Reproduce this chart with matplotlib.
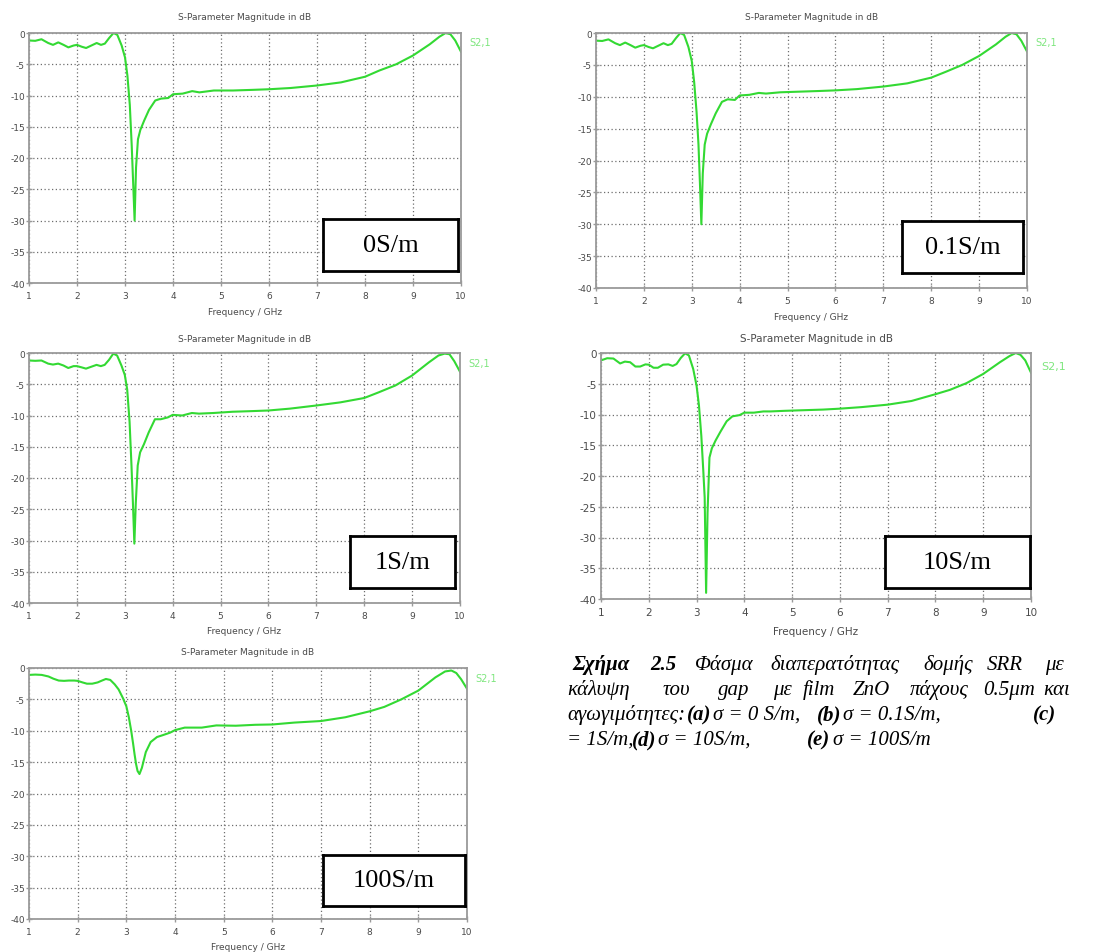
import matplotlib.pyplot as plt

plt.rcParams['axes.unicode_minus'] = False

# frequency grid (GHz) and S2,1 magnitude (dB)
freq_ghz = [1.0, 1.13, 1.26, 1.4, 1.5, 1.61, 1.72, 1.82, 1.93, 2.0,
            2.1, 2.19, 2.3, 2.41, 2.5, 2.58, 2.67, 2.76, 2.84, 2.93,
            3.0, 3.05, 3.1, 3.14, 3.17, 3.2, 3.23, 3.27, 3.32, 3.4,
            3.5, 3.63, 3.75, 3.9, 4.0, 4.2, 4.4, 4.55, 4.85, 5.25,
            5.65, 6.0, 6.45, 7.0, 7.5, 8.0, 8.3, 8.65, 9.0, 9.35,
            9.55, 9.68, 9.78, 9.88, 10.0]

s21_0 = [-1.2, -1.25, -1.0, -1.6, -1.9, -1.5, -1.9, -2.3, -2.0, -1.9,
         -2.2, -2.4, -2.0, -1.6, -1.9, -1.7, -0.8, 0.0, -0.3, -2.0,
         -3.9, -6.8, -11.5, -18.0, -24.0, -30.0, -21.5, -17.0, -15.5, -14.0,
         -12.3, -10.8, -10.5, -10.4, -9.8, -9.7, -9.3, -9.5, -9.2, -9.2,
         -9.1, -9.0, -8.8, -8.4, -7.9, -7.0, -6.0, -5.0, -3.6, -1.8,
         -0.6, 0.0, -0.2, -1.2, -3.0]

s21_01 = [-1.2, -1.25, -1.0, -1.6, -1.9, -1.5, -1.9, -2.3, -2.0, -1.9,
          -2.2, -2.4, -2.0, -1.6, -1.9, -1.7, -0.8, 0.0, -0.3, -2.2,
          -4.4, -7.7, -12.4, -17.5, -23.5, -30.0, -22.0, -17.5, -15.8, -14.3,
          -12.6, -10.8, -10.4, -10.5, -9.8, -9.7, -9.4, -9.5, -9.3, -9.2,
          -9.1, -9.0, -8.8, -8.4, -7.9, -7.0, -6.1, -5.0, -3.6, -1.8,
          -0.6, 0.0, -0.2, -1.2, -2.9]

s21_1 = [-1.2, -1.25, -1.2, -1.7, -1.85, -1.7, -2.0, -2.4, -2.1, -2.1,
         -2.3, -2.5, -2.2, -1.9, -2.1, -1.9, -1.1, -0.1, -0.4, -2.0,
         -3.5, -5.8, -11.0, -18.0, -24.0, -30.5, -24.0, -18.0, -15.9, -14.6,
         -12.7, -10.6, -10.6, -10.3, -9.9, -10.0, -9.6, -9.7, -9.6, -9.4,
         -9.3, -9.2, -8.9, -8.4, -7.9, -7.2, -6.3, -5.2, -3.6, -1.5,
         -0.4, -0.1, -0.2, -1.3, -3.0]

s21_10 = [-1.2, -0.85, -0.9, -1.7, -1.4, -1.5, -2.2, -2.2, -1.85, -1.9,
          -2.4, -2.4, -1.9, -1.85, -2.1, -1.8, -0.8, -0.05, -0.4, -2.6,
          -5.3, -8.5, -13.5, -19.0, -23.5, -39.0, -26.0, -17.0, -15.5, -14.2,
          -12.8, -11.1, -10.3, -10.1, -9.7, -9.7, -9.5, -9.5, -9.4, -9.3,
          -9.2, -9.05, -8.8, -8.4, -7.8, -6.7, -6.0, -4.9, -3.4, -1.5,
          -0.5, 0.0, -0.3, -1.2, -3.2]

s21_100 = [-1.1, -1.05, -1.1, -1.35, -1.7, -2.0, -2.05, -2.0, -2.0, -2.05,
           -2.3, -2.5, -2.5, -2.3, -2.0, -1.75, -1.9, -2.6, -3.4, -4.8,
           -6.1, -7.8, -10.0, -12.1, -13.8, -15.3, -16.4, -16.9, -15.9, -13.4,
           -11.8, -11.0, -10.7, -10.3, -9.9, -9.5, -9.5, -9.5, -9.15, -9.2,
           -9.05, -9.0, -8.7, -8.45, -7.85, -6.9, -6.2, -5.0, -3.6, -1.5,
           -0.55, -0.4, -0.8, -1.8, -3.3]

series = [s21_0, s21_01, s21_1, s21_10, s21_100]
box_labels = ['0S/m', '0.1S/m', '1S/m', '10S/m', '100S/m']
x_ticks = list(range(1, 11))
y_ticks = list(range(-40, 1, 5))

W, H = 1093, 953
fig = plt.figure(figsize=(W / 100, H / 100), dpi=100)


def px_rect(left, top, right, bottom):
    return [left / W, 1 - bottom / H, (right - left) / W, (bottom - top) / H]


def px_text(x, y, s, **kw):
    fig.text(x / W, 1 - y / H, s, **kw)


# axes (l, t, r, b), title y, xlabel y, S2,1 label (x, y), label box (l, t, r, b), font size
layout = [
    ((29, 34, 461, 284), 18, 313, (469, 43), (323, 220, 458, 272), 6.5),
    ((596, 34, 1027, 289), 18, 317, (1035, 43), (902, 222, 1023, 274), 6.5),
    ((29, 354, 460, 604), 339, 631, (468, 364), (350, 537, 455, 589), 6.5),
    ((601, 354, 1031, 600), 339, 632, (1041, 367), (885, 537, 1030, 589), 7.5),
    ((29, 669, 467, 920), 653, 948, (475, 679), (323, 856, 465, 907), 6.5),
]

green = '#33d933'
frame = '#9a9a9a'

for vals, label, (ax_px, ty, xly, s_pos, box_px, fs) in zip(series, box_labels, layout):
    ax = fig.add_axes(px_rect(*ax_px))
    ax.plot(freq_ghz, vals, color=green, lw=1.5)
    ax.set_xlim(1, 10)
    ax.set_ylim(-40, 0)
    ax.set_xticks(x_ticks)
    ax.set_yticks(y_ticks)
    ax.grid(True, color='#6e6e6e', ls=(0, (1, 2)), lw=0.9)
    for sp in ax.spines.values():
        sp.set_color(frame)
        sp.set_linewidth(1.3)
    ax.tick_params(direction='inout', length=4, width=1, color=frame,
                   labelsize=fs, labelcolor='#4a4a4a')
    ax.tick_params(axis='x', pad=4)
    ax.tick_params(axis='y', pad=1)

    cx = (ax_px[0] + ax_px[2]) / 2
    px_text(cx, ty, 'S-Parameter Magnitude in dB', ha='center', va='center',
            fontsize=fs, color='#4a4a4a')
    px_text(cx, xly, 'Frequency / GHz', ha='center', va='center',
            fontsize=fs, color='#4a4a4a')
    px_text(s_pos[0], s_pos[1], 'S2,1', ha='left', va='center',
            fontsize=fs + 0.5, color='#7fe67f')

    bx = fig.add_axes(px_rect(*box_px))
    bx.set_xticks([])
    bx.set_yticks([])
    for sp in bx.spines.values():
        sp.set_color('black')
        sp.set_linewidth(2)
    bx.text(0.5, 0.5, label, ha='center', va='center', fontsize=19,
            family='Liberation Serif', transform=bx.transAxes)

# figure caption (justified words placed as in the page)
caption = [
    (670, [(572, 'Σχήμα', True), (650, '2.5', True), (695, 'Φάσμα', False),
           (770, 'διαπερατότητας', False), (923, 'δομής', False),
           (987, 'SRR', False), (1045, 'με', False)]),
    (695, [(567, 'κάλυψη', False), (663, 'του', False), (718, 'gap', False),
           (773, 'με', False), (803, 'film', False), (853, 'ZnO', False),
           (910, 'πάχους', False), (983, '0.5μm', False), (1043, 'και', False)]),
    (720, [(567, 'αγωγιμότητες:', False), (687, '(a)', True),
           (713, 'σ = 0 S/m,', False), (817, '(b)', True),
           (843, 'σ = 0.1S/m,', False), (1033, '(c)', True)]),
    (745, [(567, '= 1S/m,', False), (632, '(d)', True),
           (658, 'σ = 10S/m,', False), (807, '(e)', True),
           (833, 'σ = 100S/m', False)]),
]
for y, words in caption:
    for x, word, bold in words:
        px_text(x, y, word, ha='left', va='baseline', fontsize=15,
                family='Liberation Serif', style='italic',
                weight='bold' if bold else 'normal')

fig.savefig('out.png', dpi=100)
